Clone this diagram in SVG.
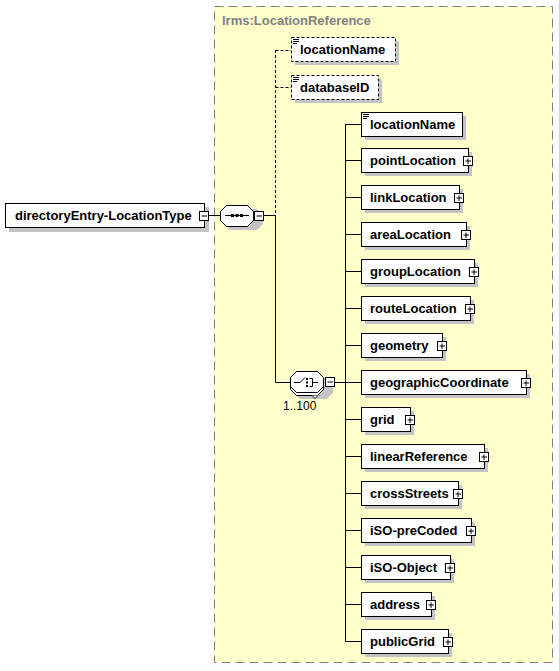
<svg xmlns="http://www.w3.org/2000/svg" xmlns:xlink="http://www.w3.org/1999/xlink" width="559" height="671" viewBox="0 0 559 671">
<style>
.bx{fill:#fff;stroke:#000;stroke-width:1}
.opt{fill:#fff;stroke:#000;stroke-width:1;stroke-dasharray:3,2}
.sh{fill:#c4c4c4}
.ln{fill:none;stroke:#000;stroke-width:1}
.dln{fill:none;stroke:#000;stroke-width:1;stroke-dasharray:3,2}
.t{font-family:"Liberation Sans",Arial,sans-serif;font-weight:bold;font-size:13px;fill:#000}
.tm{font-family:"Liberation Sans",Arial,sans-serif;font-weight:bold;font-size:13px;fill:#000}
.lbl{font-family:"Liberation Sans",Arial,sans-serif;font-weight:bold;font-size:13px;fill:#808080}
.n{font-family:"Liberation Sans",Arial,sans-serif;font-size:12px;fill:#000}
</style>
<defs>
<g id="plus"><rect x="0.5" y="0.5" width="9" height="9" fill="#fff" stroke="#000"/><path d="M2.5 5H8M5 2.5V8" stroke="#000" fill="none"/></g>
<g id="minus"><rect x="0.5" y="0.5" width="9" height="9" fill="#fff" stroke="#000"/><path d="M2.5 5H8" stroke="#000" fill="none"/></g>
<g id="simple"><path d="M2 2.5H8M2 4.5H8M2 6.5H6" stroke="#000" fill="none"/></g>
</defs>
<rect x="214.5" y="6.5" width="338" height="656" fill="#ffffcc" stroke="#808080" stroke-dasharray="9,5"/>
<text class="lbl" x="222" y="25">lrms:LocationReference</text>

<g id="connectors">
<path class="ln" d="M209 215.5H220M264 215.5H275.5"/>
<path class="dln" d="M275.5 50V215M275.5 50.5H291M275.5 87.5H291"/>
<path class="ln" d="M275.5 215V382.5H290"/>
<path class="ln" d="M335 382.5H345.5M345.5 124V641.5"/>
<path class="ln" d="M345.5 124.5H361M345.5 160.5H361M345.5 197.5H361M345.5 234.5H361M345.5 271.5H361M345.5 308.5H361M345.5 345.5H361M345.5 382.5H361M345.5 419.5H361M345.5 456.5H361M345.5 493.5H361M345.5 530.5H361M345.5 567.5H361M345.5 604.5H361M345.5 641.5H361"/>
</g>

<g id="root">
<rect class="sh" x="9" y="207" width="200" height="25"/>
<rect class="bx" x="5.5" y="203.5" width="199" height="24"/>
<text class="tm" x="15" y="220">directoryEntry-LocationType</text>
<use xlink:href="#minus" x="199" y="211"/>
</g>

<g id="sequence">
<path class="sh" d="M230 209H257L263 215V224L257 230H230L224 224V215Z"/>
<path class="bx" d="M226.5 205.5H247.5L253.5 211.5V220.5L247.5 226.5H226.5L220.5 220.5V211.5Z"/>
<path d="M225 215.5H249" stroke="#000" fill="none"/>
<rect x="231" y="214" width="3" height="3" fill="#000"/>
<rect x="235.5" y="214" width="3" height="3" fill="#000"/>
<rect x="240" y="214" width="3" height="3" fill="#000"/>
<use xlink:href="#minus" x="254" y="211"/>
</g>

<g id="choice">
<path class="sh" d="M300 378H327L333 384V393L327 399H300L294 393V384Z"/>
<path class="bx" d="M296.5 374.5H317.5L323.5 380.5V389.5L317.5 395.5H296.5L290.5 389.5V380.5Z"/>
<path class="bx" d="M296.5 371.5H317.5L323.5 377.5V386.5L317.5 392.5H296.5L290.5 386.5V377.5Z"/>
<path d="M294 382.5H300L305 377.5" stroke="#000" fill="none"/>
<rect x="306" y="378" width="2" height="2" fill="#000"/>
<rect x="306" y="381.5" width="2" height="2" fill="#000"/>
<rect x="306" y="385" width="2" height="2" fill="#000"/>
<path d="M309.5 378.5H312.5V386.5H309.5M312.5 382.5H318" stroke="#000" fill="none"/>
<path d="M312 395.5L315 398.5L318 395.5" stroke="#000" fill="#fff"/>
<use xlink:href="#minus" x="325" y="377"/>
<text class="n" x="283" y="410">1..100</text>
</g>

<g id="opt-locationName">
<rect class="sh" x="295" y="41" width="104" height="24"/>
<rect class="opt" x="291.5" y="37.5" width="104" height="24"/>
<use xlink:href="#simple" x="291" y="37"/>
<text class="t" x="300" y="54">locationName</text>
</g>
<g id="opt-databaseID">
<rect class="sh" x="295" y="79" width="87" height="24"/>
<rect class="opt" x="291.5" y="75.5" width="87" height="24"/>
<use xlink:href="#simple" x="291" y="75"/>
<text class="t" x="300" y="92">databaseID</text>
</g>

<g id="locationName">
<rect class="sh" x="365" y="116" width="101" height="24"/>
<rect class="bx" x="361.5" y="112.5" width="101" height="24"/>
<use xlink:href="#simple" x="361" y="112"/>
<text class="t" x="370" y="129">locationName</text>
</g>
<g id="pointLocation">
<rect class="sh" x="365" y="152" width="107" height="24"/>
<rect class="bx" x="361.5" y="148.5" width="107" height="24"/>
<text class="t" x="370" y="165">pointLocation</text>
<use xlink:href="#plus" x="463" y="156"/>
</g>
<g id="linkLocation">
<rect class="sh" x="365" y="189" width="98" height="24"/>
<rect class="bx" x="361.5" y="185.5" width="98" height="24"/>
<text class="t" x="370" y="202">linkLocation</text>
<use xlink:href="#plus" x="454" y="193"/>
</g>
<g id="areaLocation">
<rect class="sh" x="365" y="226" width="105" height="24"/>
<rect class="bx" x="361.5" y="222.5" width="105" height="24"/>
<text class="t" x="370" y="239">areaLocation</text>
<use xlink:href="#plus" x="461" y="230"/>
</g>
<g id="groupLocation">
<rect class="sh" x="365" y="263" width="113" height="24"/>
<rect class="bx" x="361.5" y="259.5" width="113" height="24"/>
<text class="t" x="370" y="276">groupLocation</text>
<use xlink:href="#plus" x="469" y="267"/>
</g>
<g id="routeLocation">
<rect class="sh" x="365" y="300" width="109" height="24"/>
<rect class="bx" x="361.5" y="296.5" width="109" height="24"/>
<text class="t" x="370" y="313">routeLocation</text>
<use xlink:href="#plus" x="465" y="304"/>
</g>
<g id="geometry">
<rect class="sh" x="365" y="337" width="81" height="24"/>
<rect class="bx" x="361.5" y="333.5" width="81" height="24"/>
<text class="t" x="370" y="350">geometry</text>
<use xlink:href="#plus" x="437" y="341"/>
</g>
<g id="geographicCoordinate">
<rect class="sh" x="365" y="374" width="165" height="24"/>
<rect class="bx" x="361.5" y="370.5" width="165" height="24"/>
<text class="t" x="370" y="387">geographicCoordinate</text>
<use xlink:href="#plus" x="521" y="378"/>
</g>
<g id="grid">
<rect class="sh" x="365" y="411" width="49" height="24"/>
<rect class="bx" x="361.5" y="407.5" width="49" height="24"/>
<text class="t" x="370" y="424">grid</text>
<use xlink:href="#plus" x="405" y="415"/>
</g>
<g id="linearReference">
<rect class="sh" x="365" y="448" width="123" height="24"/>
<rect class="bx" x="361.5" y="444.5" width="123" height="24"/>
<text class="t" x="370" y="461">linearReference</text>
<use xlink:href="#plus" x="479" y="452"/>
</g>
<g id="crossStreets">
<rect class="sh" x="365" y="485" width="97" height="24"/>
<rect class="bx" x="361.5" y="481.5" width="97" height="24"/>
<text class="t" x="370" y="498">crossStreets</text>
<use xlink:href="#plus" x="453" y="489"/>
</g>
<g id="iSO-preCoded">
<rect class="sh" x="365" y="522" width="110" height="24"/>
<rect class="bx" x="361.5" y="518.5" width="110" height="24"/>
<text class="t" x="370" y="535">iSO-preCoded</text>
<use xlink:href="#plus" x="466" y="526"/>
</g>
<g id="iSO-Object">
<rect class="sh" x="365" y="559" width="89" height="24"/>
<rect class="bx" x="361.5" y="555.5" width="89" height="24"/>
<text class="t" x="370" y="572">iSO-Object</text>
<use xlink:href="#plus" x="445" y="563"/>
</g>
<g id="address">
<rect class="sh" x="365" y="596" width="70" height="24"/>
<rect class="bx" x="361.5" y="592.5" width="70" height="24"/>
<text class="t" x="370" y="609">address</text>
<use xlink:href="#plus" x="426" y="600"/>
</g>
<g id="publicGrid">
<rect class="sh" x="365" y="633" width="87" height="24"/>
<rect class="bx" x="361.5" y="629.5" width="87" height="24"/>
<text class="t" x="370" y="646">publicGrid</text>
<use xlink:href="#plus" x="443" y="637"/>
</g>
</svg>
